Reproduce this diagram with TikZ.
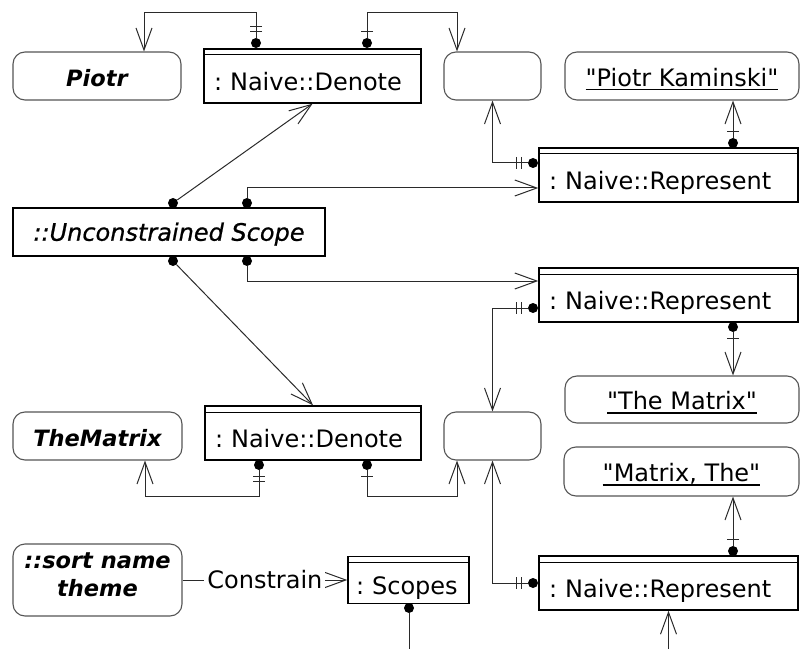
\documentclass[tikz,border=0pt]{standalone}
\usepackage{fontspec}
\setmainfont{DejaVu Sans}[Ligatures=TeXOff,ItalicFont={DejaVu Sans Oblique},BoldFont={DejaVu Sans Bold},BoldItalicFont={DejaVu Sans Bold Oblique}]
\newfontfamily\semiobl{DejaVu Sans Oblique}[Ligatures=TeXOff,FakeBold=0.8]
\usetikzlibrary{arrows.meta,decorations.markings}
\definecolor{BoxGray}{HTML}{555555}
\definecolor{LineGray}{HTML}{2A2A2A}
\newcommand\lit[1]{\setbox0=\hbox{#1}\rlap{\rule[-4pt]{\wd0}{1.3pt}}\box0}
\frenchspacing
\tikzset{
  obj/.style={draw=BoxGray, line width=1.1pt, rounded corners=12pt, inner sep=0pt, text height=20.5pt, text depth=0pt},
  objname/.style={font=\fontsize{22.5}{28}\selectfont\bfseries\itshape},
  cls/.style={draw=black, line width=1.5pt, inner xsep=10pt, inner ysep=0pt, minimum height=54pt, text width=#1, align=left, text height=29.5pt, text depth=0pt,
    path picture={\draw[line width=1pt] ([yshift=-6pt]path picture bounding box.north west) -- ([yshift=-6pt]path picture bounding box.north east);}},
  dot/.style={circle, fill=black, inner sep=0pt, minimum size=10pt},
  conn/.style={draw=LineGray, line width=1pt, -{Straight Barb[length=22pt,width=16pt]}},
  onebar/.style={postaction={decorate}, decoration={markings, mark=at position 6pt with {\draw[-, line width=1pt] (0,-6pt) -- (0,6pt);}}},
  twobar/.style={postaction={decorate}, decoration={markings,
    mark=at position 6pt with {\draw[-, line width=1pt] (0,-6pt) -- (0,6pt);},
    mark=at position 11pt with {\draw[-, line width=1pt] (0,-6pt) -- (0,6pt);}}},
}
\begin{document}
\begin{tikzpicture}[x=1pt, y=1pt, every node/.style={font=\fontsize{24}{28}\selectfont}]
  \useasboundingbox (0,0) rectangle (800,649);
  \node[obj, objname, minimum width=168pt, minimum height=48pt] (piotr) at (97,573) {Piotr};
  \node[cls=197pt] (den1) at (312.5,573) {: Naive::Denote};
  \node[obj, minimum width=97pt, minimum height=48pt] (blankA) at (492.5,573) {};
  \node[obj, minimum width=234pt, minimum height=48pt] (kaminski) at (682,573) {\lit{"Piotr Kaminski"}};
  \node[cls=239pt] (rep1) at (668.5,474) {: Naive::Represent};
  \node[draw=black, line width=1.5pt, minimum width=312pt, minimum height=48pt, text height=17.5pt, text depth=0pt,
    font=\fontsize{24}{28}\selectfont\semiobl] (unscope) at (169,417) {::Unconstrained Scope};
  \node[cls=239pt] (rep2) at (668.5,354) {: Naive::Represent};
  \node[obj, minimum width=234pt, minimum height=47pt] (matrixlit) at (682,249.5) {\lit{"The Matrix"}};
  \node[cls=196pt] (den2) at (313,216) {: Naive::Denote};
  \node[obj, objname, minimum width=169pt, minimum height=48pt] (thematrix) at (97.5,213) {TheMatrix};
  \node[obj, minimum width=97pt, minimum height=48pt] (blankB) at (492.5,213) {};
  \node[obj, minimum width=235pt, minimum height=49pt] (matrixthe) at (681.5,177.5) {\lit{"Matrix, The"}};
  \node[obj, objname, align=center, text height=32pt, text depth=0pt, minimum width=169pt, minimum height=72pt] (sortname) at (97.5,69) {::sort name\\theme};
  \node[cls=105pt, inner xsep=8pt, minimum height=47pt] (scopes) at (408.5,69) {: Scopes};
  \node[cls=239pt] (rep3) at (668.5,66) {: Naive::Represent};

  \node[dot] (d1) at (256,606) {};
  \node[dot] (d2) at (367,606) {};
  \node[dot] (d3) at (173,446) {};
  \node[dot] (d4) at (247,446) {};
  \node[dot] (d5) at (173,388) {};
  \node[dot] (d6) at (247,388) {};
  \node[dot] (d7) at (533,486) {};
  \node[dot] (d8) at (733,506) {};
  \node[dot] (d9) at (533,341) {};
  \node[dot] (d10) at (733,322) {};
  \node[dot] (d11) at (259,184) {};
  \node[dot] (d12) at (367,184) {};
  \node[dot] (d13) at (533,66) {};
  \node[dot] (d14) at (733,98) {};
  \node[dot] (d15) at (409,41) {};
  \coordinate (scopesend) at (409,0);
  \coordinate (rep3feed) at (668.5,0);

  \draw[conn, twobar] (d1.north) -- ++(0,25) -| ([xshift=47pt]piotr.north);
  \draw[conn, onebar] (d2.north) -- ++(0,25) -| ([xshift=-35.5pt]blankA.north);
  \draw[conn] (d3) -- (den1.south);
  \draw[conn] (d4.north) |- ([yshift=-13pt]rep1.west);
  \draw[conn] (d5) -- (den2.north);
  \draw[conn] (d6.south) |- ([yshift=14pt]rep2.west);
  \draw[conn, twobar] (d7.west) -| (blankA.south);
  \draw[conn, onebar] (d8.north) -- (d8.north |- kaminski.south);
  \draw[conn, twobar] (d9.west) -| (blankB.north);
  \draw[conn, onebar] (d10.south) -- (d10.south |- matrixlit.north);
  \draw[conn, twobar] (d11.south) -- ++(0,-26) -| ([xshift=47.5pt]thematrix.south);
  \draw[conn, onebar] (d12.south) -- ++(0,-26) -| ([xshift=-35.5pt]blankB.south);
  \draw[conn, twobar] (d13.west) -| (blankB.south);
  \draw[conn, onebar] (d14.north) -- (d14.north |- matrixthe.south);
  \draw[conn, -] (d15.south) -- (scopesend);
  \draw[conn] (rep3feed) -- (rep3.south);
  \draw[conn] (sortname.east) -- node[fill=white, inner sep=3pt] (constrain) {Constrain} (scopes.west);
\end{tikzpicture}
\end{document}
